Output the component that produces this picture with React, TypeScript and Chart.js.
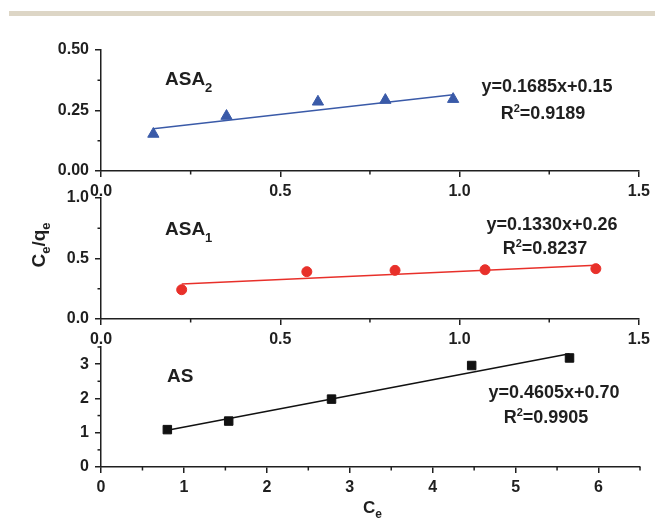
import React, { useEffect, useRef } from 'react';
import { Chart, registerables } from 'chart.js';

Chart.register(...registerables);

const W = 655;
const H = 519;

// ---- Panel 1: ASA2 ----
const asa2X = [0.146, 0.35, 0.605, 0.793, 0.982];
const asa2Y = [0.153, 0.227, 0.286, 0.293, 0.297];
const asa2FitX = [0.146, 0.982];
const asa2FitY = [0.175, 0.315];
const asa2XTicks = [0, 0.5, 1.0, 1.5];
const asa2XMinor = [0.25, 0.75, 1.25];
const asa2YTicks = [0, 0.25, 0.5];
const asa2YMinor = [0.125, 0.375];

// ---- Panel 2: ASA1 ----
const asa1X = [0.225, 0.574, 0.82, 1.071, 1.38];
const asa1Y = [0.242, 0.391, 0.402, 0.407, 0.416];
const asa1FitX = [0.225, 1.38];
const asa1FitY = [0.29, 0.444];
const asa1XTicks = [0, 0.5, 1.0, 1.5];
const asa1XMinor = [0.25, 0.75, 1.25];
const asa1YTicks = [0, 0.5, 1.0];
const asa1YMinor = [0.25, 0.75];

// ---- Panel 3: AS ----
const asX = [0.8, 1.54, 2.78, 4.47, 5.65];
const asY = [1.09, 1.34, 1.98, 2.96, 3.18];
const asFitX = [0.8, 5.65];
const asFitY = [1.07, 3.3];
const asXTicks = [0, 1, 2, 3, 4, 5, 6];
const asXMinor = [0.5, 1.5, 2.5, 3.5, 4.5, 5.5, 6.5];
const asYTicks = [0, 1, 2, 3];
const asYMinor = [0.5, 1.5, 2.5, 3.5];

const FONT = '"Liberation Sans", Arial, Helvetica, sans-serif';
const INK = '#1f1f1f';

type Seg = { t: string; size: number; dy?: number };
type TextItem = { segs: Seg[]; x: number; y: number; align: 'left' | 'center'; rot?: boolean };

function drawRich(ctx: CanvasRenderingContext2D, item: TextItem) {
  ctx.save();
  ctx.fillStyle = INK;
  ctx.textBaseline = 'alphabetic';
  ctx.textAlign = 'left';
  const widths = item.segs.map((s) => {
    ctx.font = `bold ${s.size}px ${FONT}`;
    return ctx.measureText(s.t).width;
  });
  const total = widths.reduce((a, b) => a + b, 0);
  ctx.translate(item.x, item.y);
  if (item.rot) ctx.rotate(-Math.PI / 2);
  let cx = item.align === 'center' ? -total / 2 : 0;
  item.segs.forEach((s, i) => {
    ctx.font = `bold ${s.size}px ${FONT}`;
    ctx.fillText(s.t, cx, s.dy || 0);
    cx += widths[i];
  });
  ctx.restore();
}

type PanelSpec = {
  xs: number[];
  ys: number[];
  fitX: number[];
  fitY: number[];
  color: string;
  pointStyle: string;
  radius: number;
  xMin: number;
  xMax: number;
  yMin: number;
  yMax: number;
  xTicks: number[];
  xMinor: number[];
  yTicks: number[];
  yMinor: number[];
  xDec: number;
  yDec: number;
  top: number;
  bottom: number;
  texts: TextItem[];
};

const LEFT = 101;
const RIGHT = 640;
const XAXIS_H = 40;

function makeConfig(p: PanelSpec): any {
  const tickFont = { family: FONT, size: 16, weight: 'bold' as const };
  const plugin = {
    id: 'decor',
    afterDraw(chart: any) {
      const ctx = chart.ctx as CanvasRenderingContext2D;
      ctx.save();
      ctx.strokeStyle = INK;
      ctx.lineWidth = 1.5;
      const sx = chart.scales.x;
      const sy = chart.scales.y;
      p.xMinor.forEach((v) => {
        const px = sx.getPixelForValue(v);
        ctx.beginPath();
        ctx.moveTo(px, sx.top);
        ctx.lineTo(px, sx.top + 3.5);
        ctx.stroke();
      });
      p.yMinor.forEach((v) => {
        const py = sy.getPixelForValue(v);
        ctx.beginPath();
        ctx.moveTo(sy.right - 3.5, py);
        ctx.lineTo(sy.right, py);
        ctx.stroke();
      });
      ctx.restore();
      p.texts.forEach((t) => drawRich(ctx, t));
    },
  };
  const axisCommon = {
    type: 'linear',
    bounds: 'data',
    grid: { drawOnChartArea: false, drawTicks: true, tickLength: 6, color: INK, lineWidth: 1.5 },
    border: { display: true, color: INK, width: 1.5 },
  };
  return {
    type: 'scatter',
    data: {
      datasets: [
        {
          type: 'scatter',
          data: p.xs.map((x, i) => ({ x, y: p.ys[i] })),
          pointStyle: p.pointStyle,
          pointRadius: p.radius,
          backgroundColor: p.color,
          borderColor: p.color,
          borderWidth: 1,
        },
        {
          type: 'line',
          data: p.fitX.map((x, i) => ({ x, y: p.fitY[i] })),
          borderColor: p.color,
          borderWidth: 1.5,
          pointRadius: 0,
          fill: false,
          tension: 0,
        },
      ],
    },
    options: {
      animation: false,
      responsive: false,
      events: [],
      layout: { padding: { left: 0, right: W - RIGHT, top: p.top, bottom: H - p.bottom - XAXIS_H } },
      plugins: { legend: { display: false }, tooltip: { enabled: false } },
      scales: {
        x: {
          ...axisCommon,
          min: p.xMin,
          max: p.xMax,
          afterBuildTicks: (sc: any) => {
            sc.ticks = p.xTicks.map((v) => ({ value: v }));
          },
          afterFit: (sc: any) => {
            sc.height = XAXIS_H;
          },
          ticks: {
            font: tickFont,
            color: INK,
            padding: 5,
            maxRotation: 0,
            autoSkip: false,
            callback: (v: any) => Number(v).toFixed(p.xDec),
          },
        },
        y: {
          ...axisCommon,
          min: p.yMin,
          max: p.yMax,
          afterBuildTicks: (sc: any) => {
            sc.ticks = p.yTicks.map((v) => ({ value: v }));
          },
          afterFit: (sc: any) => {
            sc.width = LEFT;
          },
          ticks: {
            font: tickFont,
            color: INK,
            padding: 6,
            autoSkip: false,
            callback: (v: any) => Number(v).toFixed(p.yDec),
          },
        },
      },
    },
    plugins: [plugin],
  };
}

const panels: PanelSpec[] = [
  {
    xs: asa2X,
    ys: asa2Y,
    fitX: asa2FitX,
    fitY: asa2FitY,
    color: '#3a5aa8',
    pointStyle: 'triangle',
    radius: 6.5,
    xMin: 0,
    xMax: 1.5,
    yMin: 0,
    yMax: 0.5,
    xTicks: asa2XTicks,
    xMinor: asa2XMinor,
    yTicks: asa2YTicks,
    yMinor: asa2YMinor,
    xDec: 1,
    yDec: 2,
    top: 50,
    bottom: 171,
    texts: [
      { segs: [{ t: 'ASA', size: 19 }, { t: '2', size: 13, dy: 7 }], x: 165, y: 84.5, align: 'left' },
      { segs: [{ t: 'y=0.1685x+0.15', size: 18 }], x: 547, y: 91.5, align: 'center' },
      { segs: [{ t: 'R', size: 18 }, { t: '2', size: 11, dy: -7 }, { t: '=0.9189', size: 18 }], x: 543, y: 118.5, align: 'center' },
    ],
  },
  {
    xs: asa1X,
    ys: asa1Y,
    fitX: asa1FitX,
    fitY: asa1FitY,
    color: '#e8302a',
    pointStyle: 'circle',
    radius: 5,
    xMin: 0,
    xMax: 1.5,
    yMin: 0,
    yMax: 1.0,
    xTicks: asa1XTicks,
    xMinor: asa1XMinor,
    yTicks: asa1YTicks,
    yMinor: asa1YMinor,
    xDec: 1,
    yDec: 1,
    top: 198,
    bottom: 319,
    texts: [
      { segs: [{ t: 'ASA', size: 19 }, { t: '1', size: 13, dy: 7 }], x: 165, y: 234.5, align: 'left' },
      { segs: [{ t: 'y=0.1330x+0.26', size: 18 }], x: 552, y: 229.5, align: 'center' },
      { segs: [{ t: 'R', size: 18 }, { t: '2', size: 11, dy: -7 }, { t: '=0.8237', size: 18 }], x: 545, y: 253.5, align: 'center' },
      {
        segs: [
          { t: 'C', size: 19 },
          { t: 'e', size: 13, dy: 5 },
          { t: '/q', size: 19 },
          { t: 'e', size: 13, dy: 5 },
        ],
        x: 45,
        y: 245,
        align: 'center',
        rot: true,
      },
    ],
  },
  {
    xs: asX,
    ys: asY,
    fitX: asFitX,
    fitY: asFitY,
    color: '#111111',
    pointStyle: 'rect',
    radius: 6,
    xMin: 0,
    xMax: 6.5,
    yMin: 0,
    yMax: 3.5,
    xTicks: asXTicks,
    xMinor: asXMinor,
    yTicks: asYTicks,
    yMinor: asYMinor,
    xDec: 0,
    yDec: 0,
    top: 347,
    bottom: 467,
    texts: [
      { segs: [{ t: 'AS', size: 19 }], x: 167, y: 381.5, align: 'left' },
      { segs: [{ t: 'y=0.4605x+0.70', size: 18 }], x: 554, y: 397.5, align: 'center' },
      { segs: [{ t: 'R', size: 18 }, { t: '2', size: 11, dy: -7 }, { t: '=0.9905', size: 18 }], x: 546, y: 423, align: 'center' },
      { segs: [{ t: 'C', size: 17 }, { t: 'e', size: 12, dy: 5 }], x: 363, y: 513, align: 'left' },
    ],
  },
];

function Panel({ spec }: { spec: PanelSpec }) {
  const ref = useRef<HTMLCanvasElement | null>(null);
  useEffect(() => {
    if (!ref.current) return;
    const chart = new Chart(ref.current, makeConfig(spec));
    return () => chart.destroy();
  }, [spec]);
  return (
    <canvas
      ref={ref}
      width={W}
      height={H}
      style={{ position: 'absolute', left: 0, top: 0, width: W, height: H }}
    />
  );
}

export default function App() {
  return (
    <div
      style={{
        position: 'fixed',
        left: 0,
        top: 0,
        width: W,
        height: H,
        background: '#ffffff',
        overflow: 'hidden',
      }}
    >
      <div
        style={{
          position: 'absolute',
          left: 9,
          top: 11,
          width: W - 9,
          height: 5,
          background: '#ddd6c6',
        }}
      />
      {panels.map((p, i) => (
        <Panel key={i} spec={p} />
      ))}
    </div>
  );
}
